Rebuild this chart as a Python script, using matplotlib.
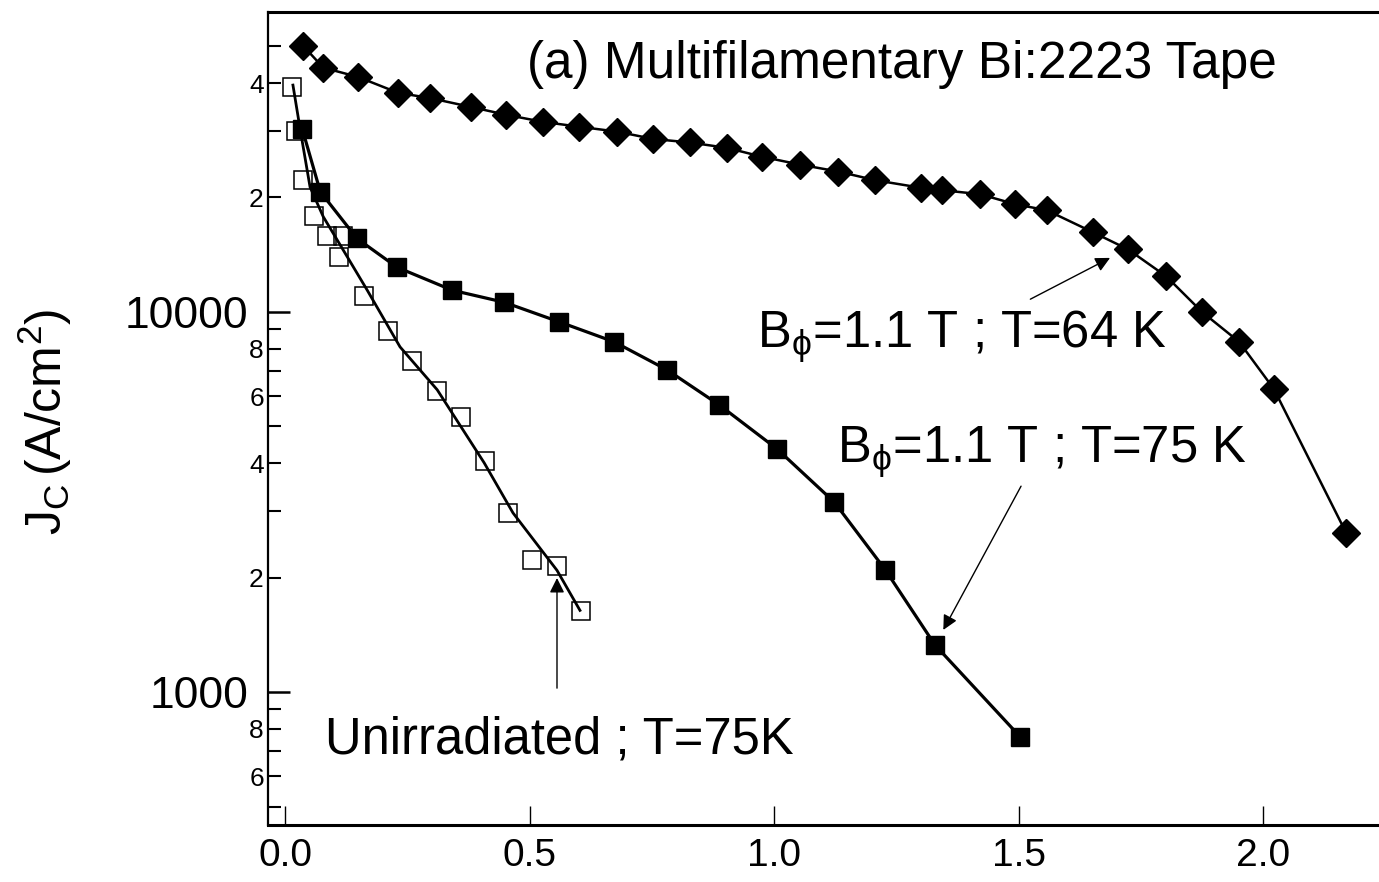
import matplotlib
matplotlib.use("Agg")
import matplotlib.pyplot as plt
from matplotlib.ticker import FixedLocator, FuncFormatter

plt.rcParams['font.family'] = ['Liberation Sans', 'DejaVu Sans']
plt.rcParams['mathtext.fontset'] = 'custom'
plt.rcParams['mathtext.rm'] = 'Liberation Sans'
plt.rcParams['mathtext.it'] = 'Liberation Sans'

# ---- data ----
# B_phi = 1.1 T, T = 64 K (filled diamonds)
x_64k = [0.037, 0.078, 0.149, 0.231, 0.297, 0.380, 0.452, 0.528, 0.601, 0.679,
         0.753, 0.828, 0.904, 0.975, 1.053, 1.131, 1.207, 1.301, 1.344, 1.421,
         1.493, 1.558, 1.652, 1.724, 1.802, 1.875, 1.951, 2.022, 2.170]
jc_64k = [50100, 43900, 41500, 37700, 36500, 34600, 33000, 31600, 30700, 29800,
          28500, 27900, 27000, 25600, 24400, 23400, 22200, 21200, 20900, 20400,
          19200, 18500, 16200, 14600, 12400, 10000, 8340, 6270, 2620]

# B_phi = 1.1 T, T = 75 K (filled squares)
x_75k = [0.035, 0.072, 0.147, 0.229, 0.342, 0.448, 0.560, 0.673, 0.781, 0.888,
         1.006, 1.123, 1.227, 1.329, 1.503]
jc_75k = [30300, 20700, 15600, 13100, 11400, 10600, 9420, 8340, 7040, 5690,
          4360, 3160, 2100, 1330, 763]

# unirradiated, T = 75 K (open squares)
x_unirr = [0.014, 0.022, 0.037, 0.059, 0.086, 0.119, 0.110, 0.162, 0.211, 0.260,
           0.311, 0.360, 0.409, 0.456, 0.505, 0.556, 0.605]
jc_unirr = [39100, 29900, 22200, 17900, 15800, 15800, 13950, 11000, 8910, 7430,
            6190, 5290, 4060, 2960, 2220, 2150, 1630]
# smooth guide line through the unirradiated points
x_unirr_fit = [0.016, 0.031, 0.051, 0.078, 0.106, 0.168, 0.235, 0.311, 0.407,
               0.466, 0.556, 0.603]
jc_unirr_fit = [39500, 30100, 21300, 17800, 15500, 11400, 8090, 6240, 4010,
                2960, 2090, 1640]

W, H = 1379, 882
fig = plt.figure(figsize=(W / 100, H / 100), dpi=100)
ax = fig.add_axes([268 / W, 57 / H, 1 - 268 / W, 813 / H])

ax.plot(x_64k, jc_64k, '-', color='k', lw=1.8, marker='D', ms=14.5,
        mfc='k', mec='k', mew=1)
ax.plot(x_75k, jc_75k, '-', color='k', lw=2.3, marker='s', ms=13.5,
        mfc='k', mec='k', mew=1)
ax.plot(x_unirr_fit, jc_unirr_fit, '-', color='k', lw=2.0)
ax.plot(x_unirr, jc_unirr, 's', ms=13.5, mfc='none', mec='k', mew=1.1)

ax.set_yscale('log')
ax.set_xlim(-0.035, 2.237)
ax.set_ylim(447, 61500)

# axes styling
ax.spines['right'].set_visible(False)
for s in ('top', 'bottom'):
    ax.spines[s].set_linewidth(2.2)
ax.spines['left'].set_linewidth(1.6)

ax.set_xticks([0.0, 0.5, 1.0, 1.5, 2.0])
ax.set_xticklabels(['0.0', '0.5', '1.0', '1.5', '2.0'])
ax.tick_params(axis='x', direction='in', length=14, width=1.0, pad=9,
               labelsize=28, top=False)

ax.yaxis.set_major_locator(FixedLocator([1000, 10000]))
ax.yaxis.set_major_formatter(FuncFormatter(lambda v, p: '%d' % round(v)))
minor = [500, 600, 700, 800, 900, 2000, 3000, 4000, 5000, 6000, 7000, 8000,
         9000, 20000, 30000, 40000, 50000]
ax.yaxis.set_minor_locator(FixedLocator(minor))


def minor_fmt(v, pos):
    d = int(round(v / 10 ** (len(str(int(round(v)))) - 1)))
    return str(d) if d in (2, 4, 6, 8) else ''


ax.yaxis.set_minor_formatter(FuncFormatter(minor_fmt))
ax.tick_params(axis='y', which='major', direction='in', length=16, width=1.8,
               pad=14, labelsize=32, right=False)
ax.tick_params(axis='y', which='minor', direction='in', length=9.5, width=1.5,
               pad=3, labelsize=19, right=False)

# y label
fig.text(45 / W, 1 - 422 / H, r'$\mathregular{J_C\,(A/cm^2)}$', rotation=90,
         ha='center', va='center', fontsize=36)

# title and annotations
fig.text(527 / W, 1 - 78 / H, '(a) Multifilamentary Bi:2223 Tape',
         fontsize=37, ha='left', va='baseline')
fig.text(757 / W, 1 - 347 / H, r'B$_{\phi}$=1.1 T ; T=64 K',
         fontsize=36.5, ha='left', va='baseline')
fig.text(837 / W, 1 - 462 / H, r'B$_{\phi}$=1.1 T ; T=75 K',
         fontsize=36.5, ha='left', va='baseline')
fig.text(325 / W, 1 - 753 / H, 'Unirradiated ; T=75K',
         fontsize=36.5, ha='left', va='baseline')

arrow = dict(arrowstyle='-|>', color='k', lw=1.0, mutation_scale=22,
             shrinkA=0, shrinkB=0)
ax.annotate('', xy=(1.687, 13870), xytext=(1.524, 10800), arrowprops=arrow)
ax.annotate('', xy=(1.346, 1457), xytext=(1.505, 3480), arrowprops=arrow)
ax.annotate('', xy=(0.556, 1995), xytext=(0.556, 1024), arrowprops=arrow)

fig.savefig('out.png', dpi=100)
